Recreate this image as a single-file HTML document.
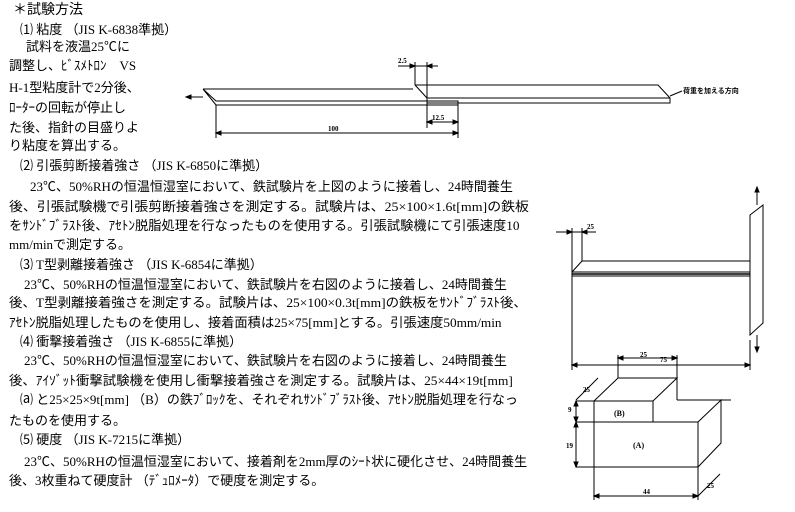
<!DOCTYPE html>
<html><head><meta charset="utf-8"><style>
body{margin:0;background:#fff;width:795px;height:512px;overflow:hidden;position:relative;font-family:"Liberation Serif","Noto Sans CJK JP",serif;color:#000}
.l{position:absolute;white-space:nowrap;font-size:13px;line-height:16px;transform-origin:0 50%}
svg{position:absolute;left:0;top:0}
</style></head><body>
<div class="l" style="left:13px;top:3px;font-size:14px">＊試験方法</div>
<div class="l" style="left:20px;top:22px">⑴ 粘度 （JIS K-6838準拠）</div>
<div class="l" style="left:26px;top:39px">試料を液温25℃に</div>
<div class="l" style="left:9px;top:58px">調整し、ﾋﾞｽﾒﾄﾛﾝ　VS</div>
<div class="l" style="left:9px;top:80px">H-1型粘度計で2分後、</div>
<div class="l" style="left:9px;top:100px">ﾛｰﾀｰの回転が停止し</div>
<div class="l" style="left:9px;top:120px">た後、指針の目盛りよ</div>
<div class="l" style="left:9px;top:138px">り粘度を算出する。</div>
<div class="l" style="left:20px;top:158px">⑵ 引張剪断接着強さ （JIS K-6850に準拠）</div>
<div class="l" style="left:30px;top:179px">23℃、50%RHの恒温恒湿室において、鉄試験片を上図のように接着し、24時間養生</div>
<div class="l" style="left:9px;top:199px;transform:scaleX(1.07)">後、引張試験機で引張剪断接着強さを測定する。試験片は、25×100×1.6t[mm]の鉄板</div>
<div class="l" style="left:9px;top:218px;transform:scaleX(1.02)">をｻﾝﾄﾞﾌﾞﾗｽﾄ後、ｱｾﾄﾝ脱脂処理を行なったものを使用する。引張試験機にて引張速度10</div>
<div class="l" style="left:9px;top:237px">mm/minで測定する。</div>
<div class="l" style="left:20px;top:257px">⑶ T型剥離接着強さ （JIS K-6854に準拠）</div>
<div class="l" style="left:24px;top:277px">23℃、50%RHの恒温恒湿室において、鉄試験片を右図のように接着し、24時間養生</div>
<div class="l" style="left:9px;top:295px;transform:scaleX(1.035)">後、T型剥離接着強さを測定する。試験片は、25×100×0.3t[mm]の鉄板をｻﾝﾄﾞﾌﾞﾗｽﾄ後、</div>
<div class="l" style="left:9px;top:315px;transform:scaleX(1.02)">ｱｾﾄﾝ脱脂処理したものを使用し、接着面積は25×75[mm]とする。引張速度50mm/min</div>
<div class="l" style="left:20px;top:334px">⑷ 衝撃接着強さ （JIS K-6855に準拠）</div>
<div class="l" style="left:24px;top:353px">23℃、50%RHの恒温恒湿室において、鉄試験片を右図のように接着し、24時間養生</div>
<div class="l" style="left:9px;top:373px;transform:scaleX(1.03)">後、ｱｲｿﾞｯﾄ衝撃試験機を使用し衝撃接着強さを測定する。試験片は、25×44×19t[mm]</div>
<div class="l" style="left:20px;top:392px">⒜ と25×25×9t[mm] （B）の鉄ﾌﾞﾛｯｸを、それぞれｻﾝﾄﾞﾌﾞﾗｽﾄ後、ｱｾﾄﾝ脱脂処理を行なっ</div>
<div class="l" style="left:9px;top:413px">たものを使用する。</div>
<div class="l" style="left:20px;top:432px">⑸ 硬度 （JIS K-7215に準拠）</div>
<div class="l" style="left:24px;top:454px">23℃、50%RHの恒温恒湿室において、接着剤を2mm厚のｼｰﾄ状に硬化させ、24時間養生</div>
<div class="l" style="left:9px;top:473px">後、3枚重ねて硬度計 （ﾃﾞｭﾛﾒｰﾀ）で硬度を測定する。</div>

<svg width="795" height="512" viewBox="0 0 795 512" fill="none" stroke="#000" stroke-width="1">
<path d="M203,89 L413,89 M203,89 L216,101 L458,101 L458,105 L216,105 Z"/>
<path d="M415,85 L658,85 L670,98 L670,103 L427,103 L427,98 L670,98 M415,85 L427,98"/>
<path d="M203,97 L187,97" /><path d="M186,97 l5,-2 v4z" fill="#000"/>
<path d="M670,96 L682,91"/>
<text x="683" y="93" font-size="7" fill="#000" stroke="none" font-family="Noto Sans CJK JP" font-weight="bold">荷重を加える方向</text>
<path d="M216,105 L216,138 M458,105 L458,138 M216,133 L458,133 M427,103 L427,128 M427,122 L458,122"/>
<path d="M216,133 l5,-2 v4z M458,133 l-5,-2 v4z M427,122 l5,-2 v4z M458,122 l-5,-2 v4z" fill="#000"/>
<text x="328" y="131" font-size="7" fill="#000" stroke="none" font-weight="bold">100</text>
<text x="432" y="120" font-size="7" fill="#000" stroke="none" font-weight="bold">12.5</text>
<path d="M415,62 L415,85 M427,62 L427,98 M398,66 L438,66"/>
<path d="M415,66 l-5,-2 v4z M427,66 l5,-2 v4z" fill="#000"/>
<text x="398" y="63" font-size="7" fill="#000" stroke="none" font-weight="bold">2.5</text>
<path d="M582,261 L750,261 M572,272 L582,261 M572,272 L750,272 M572,272 L572,276 L750,276" />
<path d="M572,274 L750,274" stroke-width="1.5"/>
<path d="M750,215 L763,205 L763,323 L750,335 Z M750,215 L750,335"/>
<path d="M757,205 L757,190 M757,335 L757,350"/>
<path d="M757,187 l-2,5 h4z M757,352 l-2,-5 h4z" fill="#000"/>
<path d="M572,228 L572,370 M582,228 L582,261 M556,232 L596,232"/>
<path d="M572,232 l-5,-2 v4z M582,232 l5,-2 v4z" fill="#000"/>
<text x="587" y="229" font-size="7" fill="#000" stroke="none" font-weight="bold">25</text>
<path d="M750,340 L750,370 M572,365 L750,365"/>
<path d="M572,365 l5,-2 v4z M750,365 l-5,-2 v4z" fill="#000"/>
<path d="M618,355 L618,378 M677,355 L677,378 M618,358 L677,358"/>
<path d="M618,358 l5,-2 v4z M677,358 l-5,-2 v4z" fill="#000"/>
<text x="640" y="357" font-size="7" fill="#000" stroke="none" font-weight="bold">25</text>
<text x="660" y="362" font-size="7" fill="#000" stroke="none" font-weight="bold">75</text>
<path d="M618,378 L677,378 L653,401 L594,401 Z M594,401 L594,422 M677,378 L677,400 M653,401 L653,422"/>
<path d="M594,422 L698,422 L698,467 L594,467 Z M698,422 L721,400 L721,443 L698,467 M677,400 L731,400"/>
<path d="M594,401 L576,401 M594,422 L576,422 M594,467 L576,467 M576,401 L576,467"/>
<path d="M576,401 l-2,5 h4z M576,422 l-2,-5 h4z M576,422 l-2,5 h4z M576,467 l-2,-5 h4z" fill="#000"/>
<text x="568" y="412" font-size="7" fill="#000" stroke="none" font-weight="bold">9</text>
<text x="566" y="448" font-size="7" fill="#000" stroke="none" font-weight="bold">19</text>
<path d="M594,467 L594,500 M698,467 L698,500 M594,496 L698,496"/>
<path d="M594,496 l5,-2 v4z M698,496 l-5,-2 v4z" fill="#000"/>
<text x="643" y="494" font-size="7" fill="#000" stroke="none" font-weight="bold">44</text>
<path d="M576,400 L598,378 M698,496 L720,474"/>
<text x="583" y="392" font-size="7" fill="#000" stroke="none" font-weight="bold">25</text>
<text x="707" y="488" font-size="7" fill="#000" stroke="none" font-weight="bold">25</text>
<text x="614" y="416" font-size="8" fill="#000" stroke="none" font-weight="bold">(B)</text>
<text x="633" y="448" font-size="8" fill="#000" stroke="none" font-weight="bold">(A)</text>
</svg>
</body></html>
